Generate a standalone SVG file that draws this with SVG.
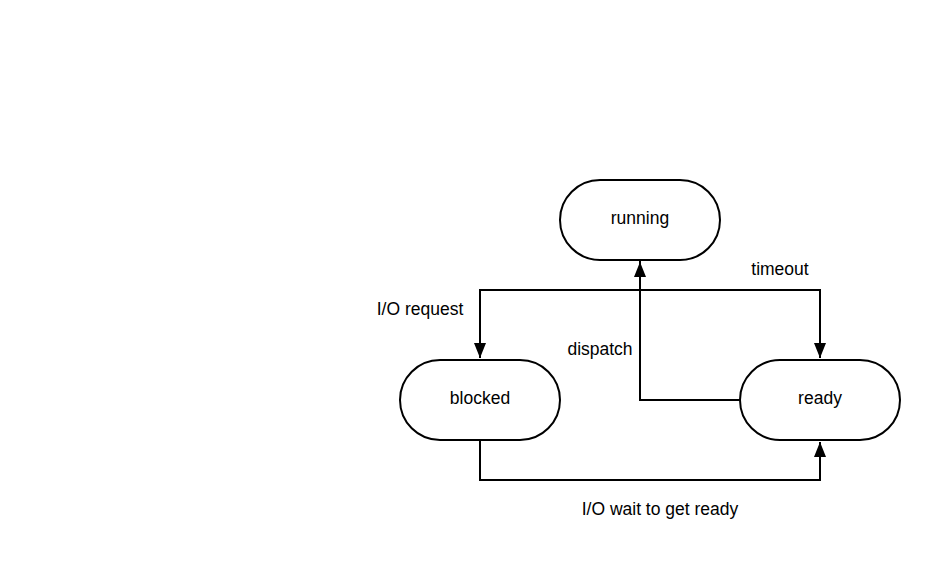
<svg xmlns="http://www.w3.org/2000/svg" width="940" height="580" viewBox="0 0 940 580">
<defs>
<marker id="arr" viewBox="0 0 15 12" refX="15" refY="6" markerWidth="15" markerHeight="12" markerUnits="userSpaceOnUse" orient="auto">
<path d="M0,0 L15,6 L0,12 Z" fill="#000"/>
</marker>
<style>
.node rect{fill:#fff;stroke:#000;stroke-width:2}
text{font-family:"Liberation Sans",Arial,sans-serif;font-size:17.5px;fill:#000;text-anchor:middle;dominant-baseline:central}
.edge{fill:none;stroke:#000;stroke-width:2;marker-end:url(#arr)}
</style>
</defs>
<rect width="940" height="580" fill="#fff"/>
<g id="connectors">
<path class="edge" d="M640,260 V290 H480 V358"/>
<path class="edge" d="M640,260 V290 H820 V358"/>
<path class="edge" d="M740,400 H640 V262"/>
<path class="edge" d="M480,440 V480 H820 V442"/>
<text x="420" y="309">I/O request</text>
<text x="780" y="269">timeout</text>
<text x="600" y="349">dispatch</text>
<text x="660" y="509">I/O wait to get ready</text>
</g>
<g id="running" class="node"><rect x="560" y="180" width="160" height="80" rx="40" ry="40"/><text x="640" y="218">running</text></g>
<g id="blocked" class="node"><rect x="400" y="360" width="160" height="80" rx="40" ry="40"/><text x="480" y="398">blocked</text></g>
<g id="ready" class="node"><rect x="740" y="360" width="160" height="80" rx="40" ry="40"/><text x="820" y="398">ready</text></g>
</svg>
